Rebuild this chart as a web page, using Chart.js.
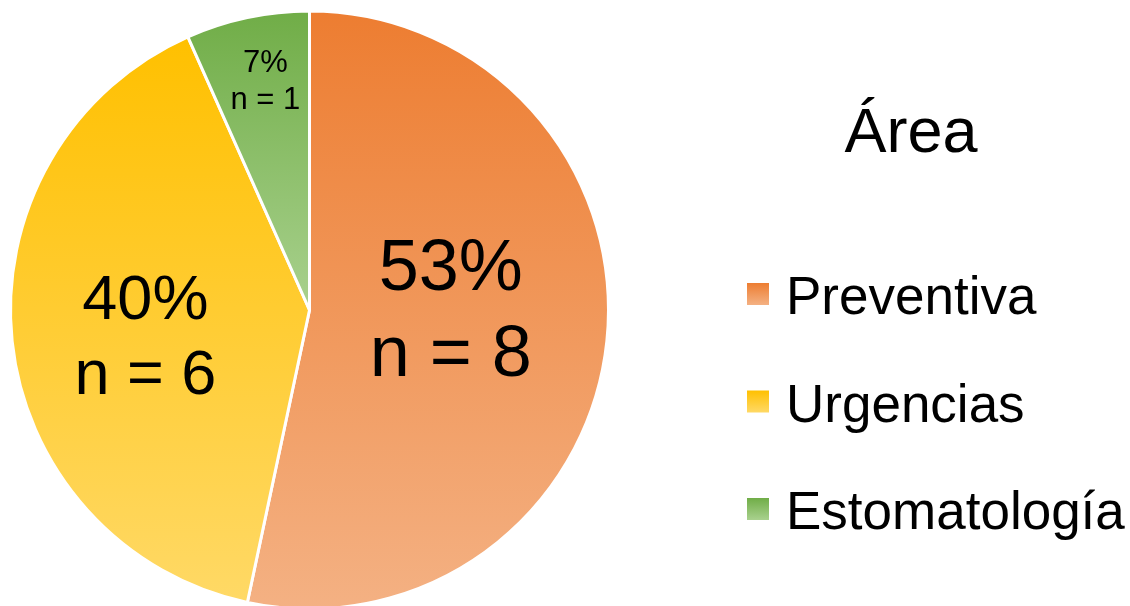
<!DOCTYPE html>
<html>
<head>
<meta charset="utf-8">
<script src="https://cdn.jsdelivr.net/npm/chart.js@4"></script>
<style>
  html, body { margin: 0; padding: 0; background: #fff; }
  canvas { display: block; }
</style>
</head>
<body>
<canvas id="areaChart" width="1130" height="606"></canvas>
<script>
// datos del gráfico
const areas = ["Preventiva", "Urgencias", "Estomatología"];
const counts = [8, 6, 1];
const legendTitle = "Área";

// degradado de arriba (oscuro) a abajo (claro) para cada porción
const topColors = ["#ED7D31", "#FFC000", "#70AD47"];
const bottomColors = ["#F4B183", "#FFD966", "#A9D18E"];

// etiquetas dentro de cada porción
const labelFontSizes = [72, 63, 31];
const labelRadius = [0.475, 0.552, 0.775];
const labelNudgeX = [0, 0, 4];
const labelNudgeY = [-12, 12, -1];

const FONT = '"Liberation Sans", Arial, sans-serif';
const total = counts.reduce((a, b) => a + b, 0);
const PIE_RADIUS = 299;

// alto (min/max y) de una porción, para que el degradado cubra solo esa porción
function sliceExtent(chart, i) {
  const area = chart.chartArea;
  const cy = (area.top + area.bottom) / 2;
  let start = -Math.PI / 2;
  for (let k = 0; k < i; k++) start += counts[k] / total * Math.PI * 2;
  const end = start + counts[i] / total * Math.PI * 2;
  let minY = cy, maxY = cy;
  for (let s = 0; s <= 200; s++) {
    const a = start + (end - start) * s / 200;
    const y = cy + PIE_RADIUS * Math.sin(a);
    minY = Math.min(minY, y);
    maxY = Math.max(maxY, y);
  }
  return [minY, maxY];
}

function sliceGradient(context) {
  const chart = context.chart;
  const i = context.dataIndex;
  if (!chart.chartArea) return topColors[i];
  const [y0, y1] = sliceExtent(chart, i);
  const g = chart.ctx.createLinearGradient(0, y0, 0, y1);
  g.addColorStop(0, topColors[i]);
  g.addColorStop(1, bottomColors[i]);
  return g;
}

// porcentaje y n dentro de cada porción
const sliceLabels = {
  id: "sliceLabels",
  afterDatasetsDraw(chart) {
    const ctx = chart.ctx;
    const arcs = chart.getDatasetMeta(0).data;
    ctx.save();
    ctx.fillStyle = "#000";
    ctx.textAlign = "center";
    ctx.textBaseline = "middle";
    arcs.forEach((arc, i) => {
      const mid = (arc.startAngle + arc.endAngle) / 2;
      const r = arc.outerRadius * labelRadius[i];
      const x = arc.x + Math.cos(mid) * r + labelNudgeX[i];
      const y = arc.y + Math.sin(mid) * r + labelNudgeY[i];
      const size = labelFontSizes[i];
      const lh = size * 1.2;
      const pct = Math.round(counts[i] / total * 100);
      ctx.font = size + "px " + FONT;
      ctx.fillText(pct + "%", x, y - lh / 2);
      ctx.fillText("n = " + counts[i], x, y + lh / 2);
    });
    ctx.restore();
  }
};

// leyenda a la derecha con título
const sideLegend = {
  id: "sideLegend",
  afterDraw(chart) {
    const ctx = chart.ctx;
    ctx.save();
    ctx.fillStyle = "#000";
    ctx.textBaseline = "alphabetic";
    ctx.textAlign = "center";
    ctx.font = "63px " + FONT;
    ctx.fillText(legendTitle, 911, 152);

    ctx.textAlign = "left";
    ctx.font = "53px " + FONT;
    areas.forEach((name, i) => {
      const base = 314 + i * 107.5;
      const boxTop = base - 31;
      const g = ctx.createLinearGradient(0, boxTop, 0, boxTop + 22);
      g.addColorStop(0, topColors[i]);
      g.addColorStop(1, bottomColors[i]);
      ctx.fillStyle = g;
      ctx.fillRect(747, boxTop, 22, 22);
      ctx.fillStyle = "#000";
      ctx.fillText(name, 786, base);
    });
    ctx.restore();
  }
};

new Chart(document.getElementById("areaChart"), {
  type: "pie",
  data: {
    labels: areas,
    datasets: [{
      data: counts,
      backgroundColor: sliceGradient,
      borderColor: "#ffffff",
      borderWidth: 3,
      radius: PIE_RADIUS,
    }],
  },
  options: {
    responsive: false,
    animation: false,
    layout: { padding: { left: 12, top: 14, right: 1130 - 607, bottom: 0 } },
    plugins: {
      legend: { display: false },
      tooltip: { enabled: false },
    },
  },
  plugins: [sliceLabels, sideLegend],
});
</script>
</body>
</html>
